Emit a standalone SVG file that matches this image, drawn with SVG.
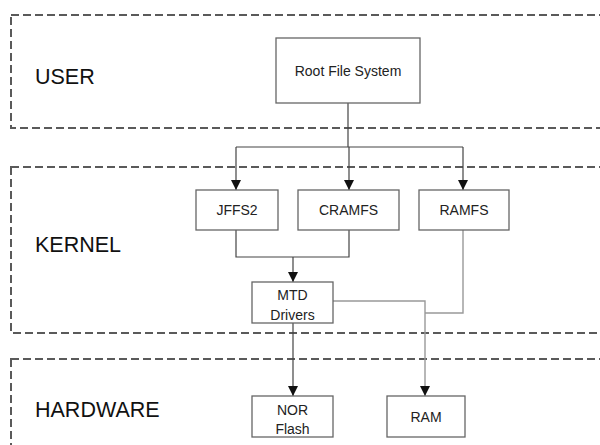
<svg xmlns="http://www.w3.org/2000/svg" width="600" height="445" viewBox="0 0 600 445">
<defs>
<style>
.region{fill:none;stroke:#5a5a5a;stroke-width:2;stroke-dasharray:8 4}
.box{fill:#fff;stroke:#666;stroke-width:1.3}
.lbl{font-family:"Liberation Sans",Arial,sans-serif;font-size:21.5px;fill:#111}
.t{font-family:"Liberation Sans",Arial,sans-serif;font-size:14px;fill:#222;text-anchor:middle}
.c{fill:none;stroke:#444;stroke-width:1.2}
.c2{fill:none;stroke:#999;stroke-width:1.4}
</style>
<marker id="ah" viewBox="0 0 10 10" refX="10" refY="5" markerWidth="10" markerHeight="10" markerUnits="userSpaceOnUse" orient="auto">
<path d="M0,0 L10,5 L0,10 z" fill="#111"/>
</marker>
</defs>
<rect width="600" height="445" fill="#fff"/>
<g id="user">
<rect class="region" x="11" y="15" width="600" height="113"/>
<text class="lbl" x="35" y="84">USER</text>
</g>
<g id="kernel">
<rect class="region" x="11" y="167" width="600" height="166"/>
<text class="lbl" x="35" y="252">KERNEL</text>
</g>
<g id="hardware">
<rect class="region" x="11" y="359" width="600" height="100"/>
<text class="lbl" x="35" y="417">HARDWARE</text>
</g>
<g id="connectors">
<path class="c" d="M348,103 V147"/>
<path class="c" d="M236,147 H463"/>
<path class="c" d="M236,147 V190" marker-end="url(#ah)"/>
<path class="c" d="M349,147 V190" marker-end="url(#ah)"/>
<path class="c" d="M463,147 V190" marker-end="url(#ah)"/>
<path class="c" d="M236,230 V257 H349 V230"/>
<path class="c" d="M293,257 V282" marker-end="url(#ah)"/>
<path class="c" d="M293,323 V396" marker-end="url(#ah)"/>
<path class="c2" d="M333,301 H425 V396" marker-end="url(#ah)"/>
<path class="c2" d="M463,230 V313 H425"/>
</g>
<g id="root">
<rect class="box" x="276" y="38" width="144" height="65"/>
<text class="t" x="348" y="76" font-size="13px">Root File System</text>
</g>
<g id="jffs2">
<rect class="box" x="196" y="190" width="82" height="40"/>
<text class="t" x="237" y="215">JFFS2</text>
</g>
<g id="cramfs">
<rect class="box" x="298" y="190" width="101" height="40"/>
<text class="t" x="348.5" y="215">CRAMFS</text>
</g>
<g id="ramfs">
<rect class="box" x="419" y="190" width="90" height="40"/>
<text class="t" x="464" y="215">RAMFS</text>
</g>
<g id="mtd">
<rect class="box" x="252" y="282" width="81" height="41"/>
<text class="t" x="292.5" y="300">MTD</text>
<text class="t" x="292.5" y="320">Drivers</text>
</g>
<g id="norflash">
<rect class="box" x="252" y="396" width="81" height="41"/>
<text class="t" x="292.5" y="415">NOR</text>
<text class="t" x="292.5" y="434">Flash</text>
</g>
<g id="ram">
<rect class="box" x="387" y="396" width="78" height="41"/>
<text class="t" x="426" y="422">RAM</text>
</g>
</svg>
